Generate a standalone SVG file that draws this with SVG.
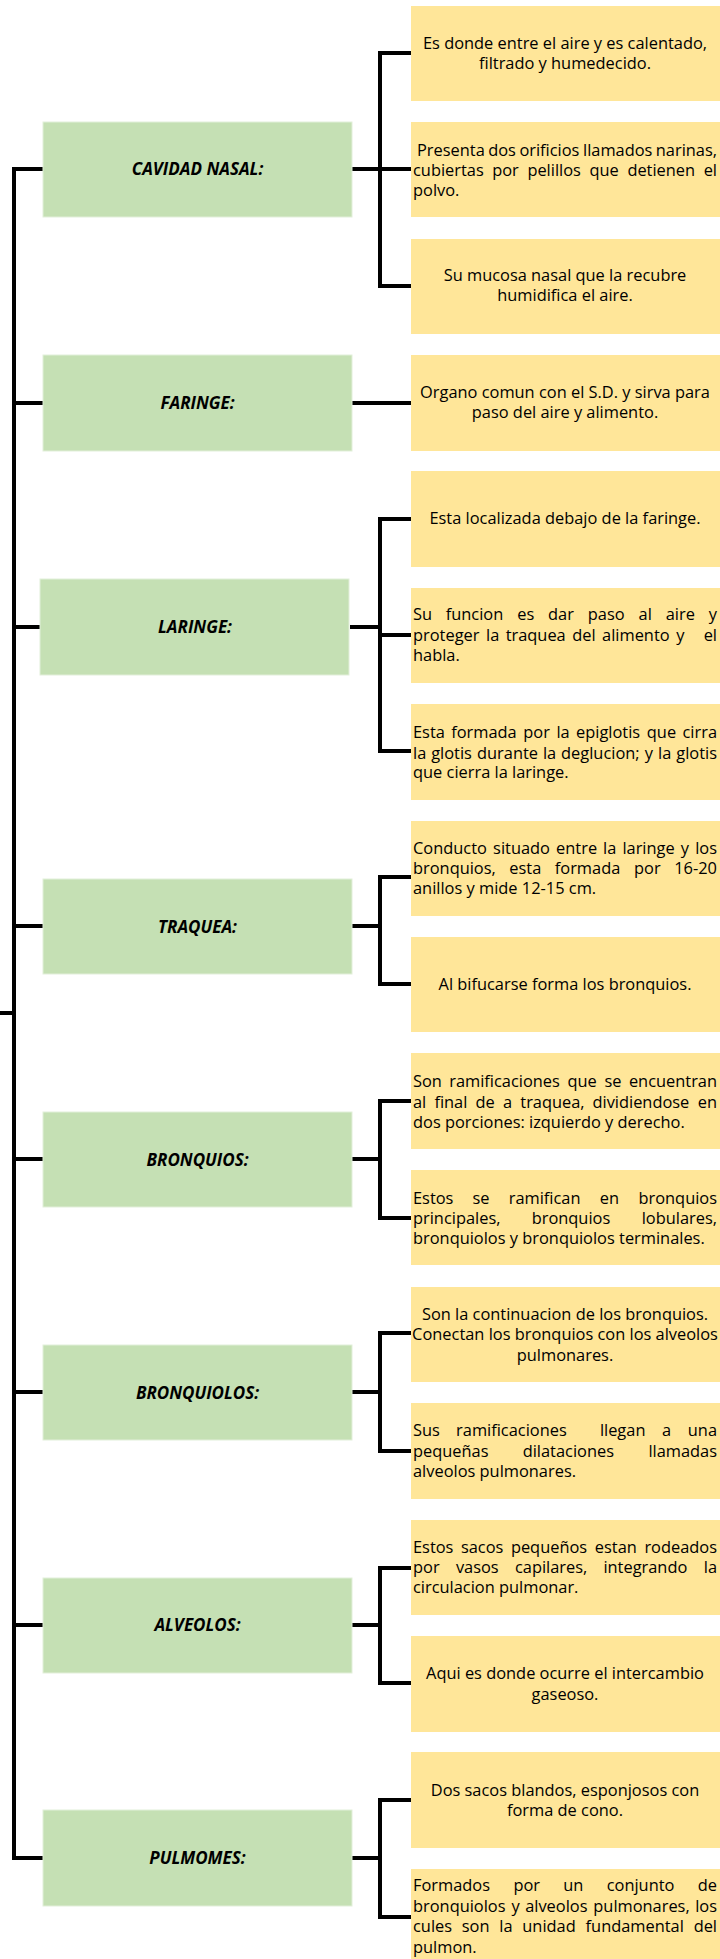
<svg xmlns="http://www.w3.org/2000/svg" width="720" height="1959" viewBox="0 0 720 1959">
<style>
.g{fill:#C5E0B4;stroke:#E2EFDA;stroke-width:1}
.y{fill:#FFE699}
.lbl{font-family:"Open Sans","Liberation Sans",sans-serif;font-size:17px;font-weight:bold;font-style:italic;fill:#000;text-anchor:middle}
.t{font-family:"Open Sans","Liberation Sans",sans-serif;font-size:16.4px;fill:#000}
.c{text-anchor:middle}
.e{text-anchor:end}
.cn{fill:none;stroke:#000;stroke-width:4}
</style>
<rect width="720" height="1959" fill="#fff"/>
<g id="connectors" class="cn">
<path d="M0,1013 H14"/>
<path d="M43,169 H14 V1858 H43"/>
<path d="M14,403 H43 M14,627 H40 M14,926 H43 M14,1159 H43 M14,1392 H43 M14,1625 H43"/>
<path d="M352,169 H411 M411,53 H380 V286 H411"/>
<path d="M352,403 H411"/>
<path d="M350,627 H380 M411,519 H380 V751 H411 M380,635 H411"/>
<path d="M352,926 H380 M411,877 H380 V984 H411"/>
<path d="M352,1159 H380 M411,1101 H380 V1218 H411"/>
<path d="M352,1392 H380 M411,1333 H380 V1451 H411"/>
<path d="M352,1625 H380 M411,1568 H380 V1683 H411"/>
<path d="M352,1858 H380 M411,1800 H380 V1917 H411"/>
</g>
<g id="cavidad">
<rect class="g" x="43" y="122" width="309" height="95"/>
<text class="lbl" x="197.5" y="175">CAVIDAD NASAL:</text>
</g>
<g id="cavidad-1">
<rect class="y" x="411" y="6" width="309" height="95"/>
<text class="t c" x="565" y="48.5">Es donde entre el aire y es calentado,</text>
<text class="t c" x="565" y="68.5">filtrado y humedecido.</text>
</g>
<g id="cavidad-2">
<rect class="y" x="411" y="122" width="309" height="95"/>
<text class="t" y="156"><tspan x="417">Presenta</tspan> <tspan x="488.2">dos</tspan> <tspan x="519.4">orificios</tspan> <tspan x="583">llamados</tspan> <tspan x="717" class="e">narinas,</tspan></text>
<text class="t" y="176"><tspan x="413">cubiertas</tspan> <tspan x="492.2">por</tspan> <tspan x="527.4">pelillos</tspan> <tspan x="589.5">que</tspan> <tspan x="627.4">detienen</tspan> <tspan x="717" class="e">el</tspan></text>
<text class="t" x="413" y="195.5">polvo.</text>
</g>
<g id="cavidad-3">
<rect class="y" x="411" y="239" width="309" height="95"/>
<text class="t c" x="565" y="280.7">Su mucosa nasal que la recubre</text>
<text class="t c" x="565" y="301">humidifica el aire.</text>
</g>
<g id="faringe">
<rect class="g" x="43" y="355" width="309" height="96"/>
<text class="lbl" x="197.5" y="408.5">FARINGE:</text>
</g>
<g id="faringe-1">
<rect class="y" x="411" y="355" width="309" height="96"/>
<text class="t c" x="565" y="397.7">Organo comun con el S.D. y sirva para</text>
<text class="t c" x="565" y="418">paso del aire y alimento.</text>
</g>
<g id="laringe">
<rect class="g" x="40" y="579" width="309" height="96"/>
<text class="lbl" x="195" y="633">LARINGE:</text>
</g>
<g id="laringe-1">
<rect class="y" x="411" y="471" width="309" height="96"/>
<text class="t c" x="565" y="524">Esta localizada debajo de la faringe.</text>
</g>
<g id="laringe-2">
<rect class="y" x="411" y="588" width="309" height="95"/>
<text class="t" y="620"><tspan x="413">Su</tspan> <tspan x="445.7">funcion</tspan> <tspan x="517.2">es</tspan> <tspan x="548.1">dar</tspan> <tspan x="587.8">paso</tspan> <tspan x="638.6">al</tspan> <tspan x="665.7">aire</tspan> <tspan x="717" class="e">y</tspan></text>
<text class="t" y="640.5"><tspan x="413">proteger</tspan> <tspan x="486">la</tspan> <tspan x="505.7">traquea</tspan> <tspan x="572.2">del</tspan> <tspan x="602.1">alimento</tspan> <tspan x="676.2">y</tspan> <tspan x="717" class="e">el</tspan></text>
<text class="t" x="413" y="660.5">habla.</text>
</g>
<g id="laringe-3">
<rect class="y" x="411" y="704" width="309" height="96"/>
<text class="t" y="738"><tspan x="413">Esta</tspan> <tspan x="451.2">formada</tspan> <tspan x="523.3">por</tspan> <tspan x="556.4">la</tspan> <tspan x="576.1">epiglotis</tspan> <tspan x="646.8">que</tspan> <tspan x="717" class="e">cirra</tspan></text>
<text class="t" y="758.5"><tspan x="413">la</tspan> <tspan x="431.2">glotis</tspan> <tspan x="477">durante</tspan> <tspan x="542.9">la</tspan> <tspan x="561.1">deglucion;</tspan> <tspan x="644.8">y</tspan> <tspan x="658">la</tspan> <tspan x="717" class="e">glotis</tspan></text>
<text class="t" x="413" y="778">que cierra la laringe.</text>
</g>
<g id="traquea">
<rect class="g" x="43" y="879" width="309" height="95"/>
<text class="lbl" x="197.5" y="932.5">TRAQUEA:</text>
</g>
<g id="traquea-1">
<rect class="y" x="411" y="821" width="309" height="95"/>
<text class="t" y="853.5"><tspan x="413">Conducto</tspan> <tspan x="493.1">situado</tspan> <tspan x="556.1">entre</tspan> <tspan x="603.1">la</tspan> <tspan x="622.4">laringe</tspan> <tspan x="680.8">y</tspan> <tspan x="717" class="e">los</tspan></text>
<text class="t" y="874"><tspan x="413">bronquios,</tspan> <tspan x="509.3">esta</tspan> <tspan x="554.8">formada</tspan> <tspan x="634">por</tspan> <tspan x="717" class="e">16-20</tspan></text>
<text class="t" x="413" y="894">anillos y mide 12-15 cm.</text>
</g>
<g id="traquea-2">
<rect class="y" x="411" y="937" width="309" height="95"/>
<text class="t c" x="565" y="990">Al bifucarse forma los bronquios.</text>
</g>
<g id="bronquios">
<rect class="g" x="43" y="1112" width="309" height="95"/>
<text class="lbl" x="197.5" y="1165.5">BRONQUIOS:</text>
</g>
<g id="bronquios-1">
<rect class="y" x="411" y="1053" width="309" height="96"/>
<text class="t" y="1087"><tspan x="413">Son</tspan> <tspan x="449.2">ramificaciones</tspan> <tspan x="567.5">que</tspan> <tspan x="604.4">se</tspan> <tspan x="717" class="e">encuentran</tspan></text>
<text class="t" y="1107.5"><tspan x="413">al</tspan> <tspan x="434.4">final</tspan> <tspan x="475.6">de</tspan> <tspan x="503">a</tspan> <tspan x="520.3">traquea,</tspan> <tspan x="592.5">dividiendose</tspan> <tspan x="717" class="e">en</tspan></text>
<text class="t" x="413" y="1127.5">dos porciones: izquierdo y derecho.</text>
</g>
<g id="bronquios-2">
<rect class="y" x="411" y="1170" width="309" height="95"/>
<text class="t" y="1203.5"><tspan x="413">Estos</tspan> <tspan x="472.5">se</tspan> <tspan x="508.7">ramifican</tspan> <tspan x="599.8">en</tspan> <tspan x="717" class="e">bronquios</tspan></text>
<text class="t" y="1223.5"><tspan x="413">principales,</tspan> <tspan x="531.7">bronquios</tspan> <tspan x="717" class="e">lobulares,</tspan></text>
<text class="t" x="413" y="1244">bronquiolos y bronquiolos terminales.</text>
</g>
<g id="bronquiolos">
<rect class="g" x="43" y="1345" width="309" height="95"/>
<text class="lbl" x="197.5" y="1398.5">BRONQUIOLOS:</text>
</g>
<g id="bronquiolos-1">
<rect class="y" x="411" y="1287" width="309" height="95"/>
<text class="t c" x="565" y="1319.5">Son la continuacion de los bronquios.</text>
<text class="t c" x="565" y="1340">Conectan los bronquios con los alveolos</text>
<text class="t c" x="565" y="1360.5">pulmonares.</text>
</g>
<g id="bronquiolos-2">
<rect class="y" x="411" y="1403" width="309" height="96"/>
<text class="t" y="1436"><tspan x="413">Sus</tspan> <tspan x="456.1">ramificaciones</tspan> <tspan x="599.9">llegan</tspan> <tspan x="662.1">a</tspan> <tspan x="717" class="e">una</tspan></text>
<text class="t" y="1456.5"><tspan x="413">pequeñas</tspan> <tspan x="522.7">dilataciones</tspan> <tspan x="717" class="e">llamadas</tspan></text>
<text class="t" x="413" y="1476.5">alveolos pulmonares.</text>
</g>
<g id="alveolos">
<rect class="g" x="43" y="1578" width="309" height="95"/>
<text class="lbl" x="197.5" y="1631">ALVEOLOS:</text>
</g>
<g id="alveolos-1">
<rect class="y" x="411" y="1520" width="309" height="95"/>
<text class="t" y="1552.5"><tspan x="413">Estos</tspan> <tspan x="460.9">sacos</tspan> <tspan x="510.9">pequeños</tspan> <tspan x="594.8">estan</tspan> <tspan x="717" class="e">rodeados</tspan></text>
<text class="t" y="1573"><tspan x="413">por</tspan> <tspan x="455.9">vasos</tspan> <tspan x="515">capilares,</tspan> <tspan x="603.4">integrando</tspan> <tspan x="717" class="e">la</tspan></text>
<text class="t" x="413" y="1593">circulacion pulmonar.</text>
</g>
<g id="alveolos-2">
<rect class="y" x="411" y="1636" width="309" height="96"/>
<text class="t c" x="565" y="1679">Aqui es donde ocurre el intercambio</text>
<text class="t c" x="565" y="1700">gaseoso.</text>
</g>
<g id="pulmomes">
<rect class="g" x="43" y="1810" width="309" height="96"/>
<text class="lbl" x="197.5" y="1863.5">PULMOMES:</text>
</g>
<g id="pulmomes-1">
<rect class="y" x="411" y="1752" width="309" height="96"/>
<text class="t c" x="565" y="1795.5">Dos sacos blandos, esponjosos con</text>
<text class="t c" x="565" y="1816">forma de cono.</text>
</g>
<g id="pulmomes-2">
<rect class="y" x="411" y="1869" width="309" height="95"/>
<text class="t" y="1891"><tspan x="413">Formados</tspan> <tspan x="513.4">por</tspan> <tspan x="563.3">un</tspan> <tspan x="606.7">conjunto</tspan> <tspan x="717" class="e">de</tspan></text>
<text class="t" y="1911.5"><tspan x="413">bronquiolos</tspan> <tspan x="511.4">y</tspan> <tspan x="525.2">alveolos</tspan> <tspan x="593.3">pulmonares,</tspan> <tspan x="717" class="e">los</tspan></text>
<text class="t" y="1932"><tspan x="413">cules</tspan> <tspan x="461.8">son</tspan> <tspan x="499.3">la</tspan> <tspan x="522.3">unidad</tspan> <tspan x="585.6">fundamental</tspan> <tspan x="717" class="e">del</tspan></text>
<text class="t" x="413" y="1952.5">pulmon.</text>
</g>
</svg>
